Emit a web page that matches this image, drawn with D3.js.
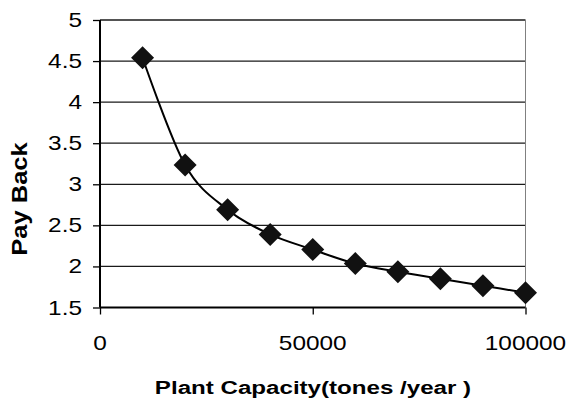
<!doctype html>
<html>
<head>
<meta charset="utf-8">
<script src="https://cdn.jsdelivr.net/npm/d3@7"></script>
<style>
html,body{
    margin: 0;
    background: #fff;
    overflow: hidden;
}
text {
    font-family: "Liberation Sans", Arial, sans-serif;
    fill: #000;
}
</style>
</head>
<body>
<script>
var capacity = [10000, 20000, 30000, 40000, 50000, 60000, 70000, 80000, 90000, 100000];
var payBack = [4.54, 3.235, 2.69, 2.39, 2.205, 2.035, 1.935, 1.85, 1.765, 1.68];
var xTicks = [0, 50000, 100000];
var yTicks = [1.5, 2, 2.5, 3, 3.5, 4, 4.5, 5];

(function(){
    var w = 566, h = 406,
        left = 100, right = 525.5, top = 20, bottom = 307.5,
        tickFont = 20, tickStretch = 1.22;

    var svg = d3.select("body").append("svg")
        .attr("width", w)
        .attr("height", h);

    var x = d3.scaleLinear().domain([0, 100000]).range([left, right]);
    var y = d3.scaleLinear().domain([1.5, 5]).range([bottom, top]);

    // gridlines
    svg.append("g").selectAll("line")
        .data(yTicks.slice(1))
        .enter().append("line")
            .attr("x1", left).attr("x2", right)
            .attr("y1", function(d){return y(d)})
            .attr("y2", function(d){return y(d)})
            .attr("stroke", "#1a1a1a")
            .attr("stroke-width", 1.3);

    // right border
    svg.append("line")
        .attr("x1", right).attr("x2", right)
        .attr("y1", top).attr("y2", bottom)
        .attr("stroke", "#808080");

    var yAxis = d3.axisLeft(y).tickValues(yTicks).tickSize(7).tickFormat("");
    var gy = svg.append("g").attr("transform", "translate(" + left + ",0)").call(yAxis);

    var xAxis = d3.axisBottom(x).tickValues(xTicks).tickSize(7).tickFormat("");
    var gx = svg.append("g").attr("transform", "translate(0," + bottom + ")").call(xAxis);

    [gx, gy].forEach(function(g){
        g.select(".domain").attr("stroke", "#000").attr("stroke-width", 2);
        g.selectAll(".tick line").attr("stroke", "#000").attr("stroke-width", 1.3);
        g.selectAll(".tick text").remove();
    });
    gx.select(".domain").attr("d", "M" + left + ",0H" + right);
    gy.select(".domain").attr("d", "M0," + top + "V" + bottom);

    // tick labels (the source text is drawn wide, so stretch along x)
    svg.append("g").selectAll("text")
        .data(yTicks)
        .enter().append("text")
            .attr("transform", function(d){return "translate(82," + y(d) + ") scale(" + tickStretch + ",1)"})
            .attr("dy", "0.35em")
            .attr("text-anchor", "end")
            .style("font-size", tickFont + "px")
            .text(function(d){return d});

    svg.append("g").selectAll("text")
        .data(xTicks)
        .enter().append("text")
            .attr("transform", function(d){return "translate(" + x(d) + ",350) scale(" + tickStretch + ",1)"})
            .attr("text-anchor", "middle")
            .style("font-size", tickFont + "px")
            .text(function(d){return d});

    var pts = capacity.map(function(c, i){return [c, payBack[i]]});

    var line = d3.line()
        .x(function(d){return x(d[0])})
        .y(function(d){return y(d[1])})
        .curve(d3.curveCardinal.tension(0));

    svg.append("path")
        .datum(pts)
        .attr("d", line)
        .attr("fill", "none")
        .attr("stroke", "#000")
        .attr("stroke-width", 2);

    svg.append("g").selectAll("path")
        .data(pts)
        .enter().append("path")
            .attr("transform", function(d){return "translate(" + x(d[0]) + "," + y(d[1]) + ")"})
            .attr("d", "M0,-11.5L11.5,0L0,11.5L-11.5,0Z")
            .attr("fill", "#111");

    svg.append("text")
        .attr("transform", "translate(313,394) scale(1.27,1)")
        .attr("text-anchor", "middle")
        .style("font-size", "19px")
        .style("font-weight", "bold")
        .text("Plant Capacity(tones /year )");

    svg.append("text")
        .attr("transform", "translate(26.5,199) rotate(-90) scale(1.16,1)")
        .attr("text-anchor", "middle")
        .style("font-size", "22px")
        .style("font-weight", "bold")
        .text("Pay Back");
})();
</script>
</body>
</html>
